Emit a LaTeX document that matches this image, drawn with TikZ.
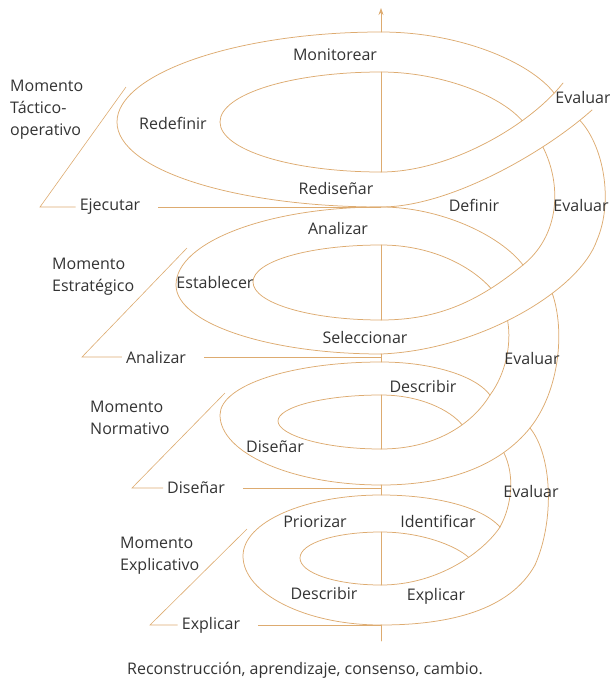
\documentclass[tikz,border=0pt]{standalone}
\usepackage{fontspec}
\setmainfont{Open Sans}
\usetikzlibrary{arrows.meta}
\definecolor{spiral}{HTML}{DDAB70}
\definecolor{ink}{HTML}{333333}
\tikzset{
	curve/.style={draw=spiral, line width=0.75pt, line cap=round},
	guide/.style={draw=spiral, line width=0.6pt},
	lbl/.style={text=ink, font=\fontsize{16}{22}\selectfont, inner sep=0pt},
	moment/.style={lbl, align=left, anchor=west}
}

\begin{document}
\begin{tikzpicture}[x=1pt, y=-1pt]
\useasboundingbox (0,0) rectangle (610,683);
% Axis
\draw[curve, -{Stealth[length=7pt, width=5pt]}] (381,32) -- (381,8);
\foreach \a/\b in {72/172, 245/320, 354/362, 395/449, 485/495, 532/585, 625/641} {
\draw[curve] (381,\a) -- (381,\b);
}
% Level 1: tactico-operativo
\draw[curve] (563,83) .. controls (530,125) and (450,172) .. (381,172)
	coordinate[pos=0.08] (t1) coordinate[pos=0.3] (t2);
\draw[curve] (381,172) .. controls (292,172) and (220,150) .. (220,122)
	.. controls (220,94) and (292,72) .. (381,72)
	.. controls (440,72) and (500,95) .. (t2);
\draw[curve] (592,110) .. controls (545,152) and (450,207) .. (381,207)
	coordinate[pos=0.08] (e1) coordinate[pos=0.28] (f1);
\draw[curve] (381,207) .. controls (236,207) and (117,170) .. (117,122)
	.. controls (117,74) and (236,32) .. (381,32)
	.. controls (460,32) and (530,62) .. (t1);
% Level 2: estrategico
\draw[curve] (f1) .. controls (562,185) and (560,235) .. (523,265);
\draw[curve] (523,265) .. controls (480,300) and (440,320) .. (381,320)
	coordinate[pos=0.25] (f3);
\draw[curve] (381,320) .. controls (310,320) and (253,303) .. (253,282)
	.. controls (253,261) and (310,245) .. (381,245)
	.. controls (430,245) and (470,265) .. (f3);
\draw[curve] (e1) .. controls (603,145) and (614,200) .. (597,240);
\draw[curve] (597,240) .. controls (580,290) and (480,350) .. (381,354)
	coordinate[pos=0.35] (i1) coordinate[pos=0.55] (h1);
\draw[curve] (381,354) .. controls (268,354) and (176,323) .. (176,285)
	.. controls (176,242) and (268,207) .. (381,207)
	.. controls (440,207) and (500,235) .. (523,265);
% Level 3: normativo
\draw[curve] (h1) .. controls (512,345) and (505,375) .. (490,395);
\draw[curve] (490,395) .. controls (475,420) and (440,449) .. (381,449)
	coordinate[pos=0.4] (h3);
\draw[curve] (381,449) .. controls (324,449) and (278,435) .. (278,421)
	.. controls (278,407) and (324,395) .. (381,395)
	.. controls (420,395) and (450,410) .. (h3);
\draw[curve] (i1) .. controls (565,330) and (560,390) .. (530,428);
\draw[curve] (530,428) .. controls (500,465) and (450,485) .. (381,485)
	coordinate[pos=0.25] (j1);
\draw[curve] (381,485) .. controls (292,485) and (220,453) .. (220,415)
	.. controls (220,385) and (292,362) .. (381,362)
	.. controls (430,362) and (475,375) .. (490,395);
% Level 4: explicativo
\draw[curve] (j1) .. controls (515,475) and (512,505) .. (500,527);
\draw[curve] (500,527) .. controls (485,550) and (440,585) .. (381,585)
	coordinate[pos=0.4] (j3);
\draw[curve] (381,585) .. controls (336,585) and (300,573) .. (300,558)
	.. controls (300,543) and (336,532) .. (381,532)
	.. controls (420,532) and (455,545) .. (j3);
\draw[curve] (530,428) .. controls (552,455) and (555,520) .. (535,565);
\draw[curve] (535,565) .. controls (510,610) and (450,625) .. (381,625);
\draw[curve] (381,625) .. controls (305,625) and (243,593) .. (243,556)
	.. controls (243,522) and (305,495) .. (381,495)
	.. controls (430,495) and (480,505) .. (500,527);
% Labels on the spiral
\node[lbl] (monitorear) at (335,55) {Monitorear};
\node[lbl] (evaluar1) at (583,97) {Evaluar};
\node[lbl] (redefinir) at (173,123) {Redefinir};
\node[lbl] (redisenar) at (336,188) {Rediseñar};
\node[lbl] (definir) at (474,205) {Definir};
\node[lbl] (evaluar2) at (581,205) {Evaluar};
\node[lbl] (analizar) at (338,228) {Analizar};
\node[lbl] (establecer) at (215,282) {Establecer};
\node[lbl] (seleccionar) at (365,337) {Seleccionar};
\node[lbl] (evaluar3) at (532,358) {Evaluar};
\node[lbl] (describir) at (423,386) {Describir};
\node[lbl] (disenar) at (275,447) {Diseñar};
\node[lbl] (evaluar4) at (531,491) {Evaluar};
\node[lbl] (priorizar) at (315,522) {Priorizar};
\node[lbl] (identificar) at (438,521) {Identificar};
\node[lbl] (describir2) at (324,593) {Describir};
\node[lbl] (explicar) at (436,596) {Explicar};
% Moments
\node[moment] (tactico) at (10,110) {Momento\\Táctico-\\operativo};
\node[moment] (estrategico) at (52,277) {Momento\\Estratégico};
\node[moment] (normativo) at (90,418) {Momento\\Normativo};
\node[moment] (explicativo) at (120,556) {Momento\\Explicativo};
\node[lbl] (ejecutar) at (110,207) {Ejecutar};
\node[lbl] (analizar2) at (156,357) {Analizar};
\node[lbl] (disenar2) at (196,488) {Diseñar};
\node[lbl] (explicar2) at (211,625) {Explicar};
\coordinate (top1) at (126,87);  \coordinate (base1) at (40,207);  \coordinate (ax1) at (381,207);
\coordinate (top2) at (187,248); \coordinate (base2) at (82,357);  \coordinate (ax2) at (381,357);
\coordinate (top3) at (225,393); \coordinate (base3) at (132,488); \coordinate (ax3) at (381,488);
\coordinate (top4) at (247,529); \coordinate (base4) at (150,625); \coordinate (ax4) at (381,625);
\foreach \n/\lab in {1/ejecutar, 2/analizar2, 3/disenar2, 4/explicar2} {
\draw[guide, shorten >=4pt] (top\n) -- (base\n) -- (\lab.west);
\draw[guide, shorten <=18pt] (\lab.east) -- (ax\n);
}
% Caption
\node[lbl] (lema) at (305,670) {Reconstrucción, aprendizaje, consenso, cambio.};
\end{tikzpicture}
\end{document}
